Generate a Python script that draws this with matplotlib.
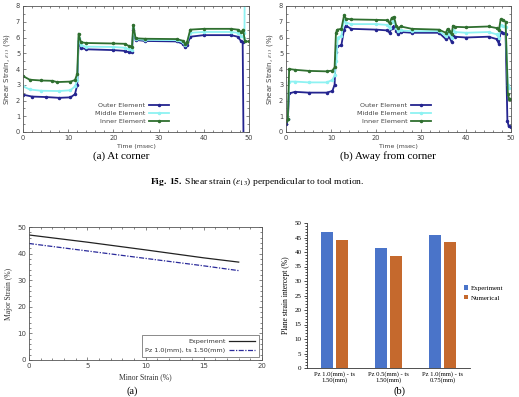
import matplotlib
matplotlib.use("Agg")
import matplotlib.pyplot as plt
from matplotlib.ticker import MultipleLocator
import numpy as np

plt.rcParams['mathtext.fontset'] = 'stix'
plt.rcParams['font.family'] = ['DejaVu Sans']

# ---------------- data: (a) at corner ----------------
ta_outer = [0, 2, 5, 8, 10.5, 11.5, 12.0, 12.3, 12.8, 14, 20, 22.5, 23.5, 24.1, 24.4, 24.9, 27, 34, 35.3, 35.9, 36.3, 37, 40, 46, 47.5, 48.3, 48.6, 48.8]
va_outer = [2.37, 2.25, 2.22, 2.17, 2.2, 2.4, 3.0, 5.8, 5.35, 5.25, 5.2, 5.15, 5.05, 5.05, 6.5, 5.85, 5.78, 5.75, 5.6, 5.4, 5.5, 6.05, 6.15, 6.15, 6.05, 5.75, 5.7, -1]
ta_middle = [0, 1.5, 4, 8, 10.5, 11.5, 12.0, 12.3, 12.8, 14, 20, 22.5, 23.5, 24.1, 24.4, 24.9, 27, 34, 35.3, 35.9, 36.3, 37, 40, 46, 47.5, 48.3, 48.8, 49.0, 49.05]
va_middle = [2.9, 2.7, 2.62, 2.6, 2.65, 2.9, 3.3, 6.0, 5.5, 5.42, 5.4, 5.35, 5.25, 5.2, 6.6, 5.9, 5.85, 5.83, 5.7, 5.5, 5.7, 6.3, 6.35, 6.35, 6.3, 6.1, 6.0, 6.3, 9]
ta_inner = [0, 1.5, 4, 6.5, 7.5, 10.5, 11.5, 12.0, 12.3, 12.8, 14, 20, 22.5, 23.5, 24.1, 24.4, 24.9, 27, 34, 35.3, 35.9, 36.3, 37, 40, 46, 47.5, 48.3, 48.7, 49.1, 50]
va_inner = [3.55, 3.32, 3.27, 3.25, 3.17, 3.2, 3.3, 3.7, 6.25, 5.7, 5.65, 5.62, 5.6, 5.45, 5.4, 6.8, 5.95, 5.92, 5.9, 5.8, 5.6, 5.7, 6.5, 6.55, 6.55, 6.5, 6.35, 6.5, 5.75, 5.75]

# ---------------- data: (b) away from corner ----------------
tb_outer = [0.1, 0.4, 0.7, 2, 5, 9, 10.3, 10.8, 11.1, 11.4, 12.3, 12.9, 13.3, 14.5, 20, 22.5, 23.0, 23.5, 24.0, 24.5, 24.9, 25.5, 28, 34, 35.5, 35.9, 36.3, 36.8, 37.1, 37.5, 40, 45, 46.8, 47.3, 47.7, 48.3, 48.8, 49.2, 49.5, 50]
vb_outer = [0.5, 0.8, 2.45, 2.55, 2.5, 2.5, 2.6, 3.0, 5.1, 5.45, 5.5, 6.5, 6.75, 6.55, 6.5, 6.45, 6.3, 6.6, 6.75, 6.4, 6.2, 6.35, 6.3, 6.3, 5.9, 6.2, 6.05, 5.7, 6.1, 6.05, 6.0, 6.05, 5.9, 5.6, 6.35, 6.3, 6.2, 0.7, 0.35, 0.3]
tb_middle = [0.4, 0.7, 2, 5, 9, 10.3, 10.8, 11.2, 11.5, 12.3, 12.9, 13.3, 14.5, 20, 22.5, 23.0, 23.5, 24.0, 24.5, 24.9, 25.5, 28, 34, 35.5, 35.9, 36.3, 36.8, 37.1, 37.5, 40, 45, 46.8, 47.3, 47.7, 48.3, 48.8, 49.3, 49.6]
vb_middle = [0.8, 3.2, 3.2, 3.15, 3.15, 3.3, 3.6, 4.5, 6.0, 6.1, 7.1, 6.95, 6.85, 6.85, 6.8, 6.6, 7.0, 7.05, 6.6, 6.4, 6.45, 6.4, 6.4, 6.1, 6.4, 6.2, 5.95, 6.5, 6.35, 6.3, 6.35, 6.2, 6.0, 6.8, 6.7, 6.65, 3.0, 2.8]
tb_inner = [0.1, 0.4, 0.7, 2, 5, 9, 10.3, 10.8, 11.1, 11.4, 12.3, 12.9, 13.3, 14.5, 20, 22.5, 23.0, 23.5, 24.0, 24.5, 24.9, 25.5, 28, 34, 35.5, 35.9, 36.3, 36.8, 37.1, 37.5, 40, 45, 46.8, 47.3, 47.7, 48.3, 48.8, 49.3, 49.6, 49.8]
vb_inner = [0.7, 0.8, 4.0, 3.95, 3.88, 3.85, 3.9, 4.1, 6.3, 6.5, 6.55, 7.4, 7.2, 7.15, 7.12, 7.1, 6.9, 7.25, 7.3, 6.75, 6.6, 6.7, 6.55, 6.5, 6.3, 6.55, 6.4, 6.2, 6.75, 6.68, 6.65, 6.7, 6.6, 6.45, 7.15, 7.1, 7.0, 2.4, 2.1, 2.1]

series_names = ["Outer Element", "Middle Element", "Inner Element"]
series_colors = ["#24248f", "#8ef2f2", "#2f6f2f"]

# ---------------- data: bottom (a) FLC ----------------
minor_strain = [0, 5, 10, 15, 18]
major_experiment = [47.0, 44.3, 41.4, 38.4, 36.8]
major_numerical = [43.8, 41.0, 38.2, 35.4, 33.6]

# ---------------- data: bottom (b) bars ----------------
bar_categories = ["Pz 1.0(mm) - ts\n1.50(mm)", "Pz 0.5(mm) - ts\n1.50(mm)", "Pz 1.0(mm) - ts\n0.75(mm)"]
bar_experiment = [47.0, 41.5, 46.0]
bar_numerical = [44.0, 38.5, 43.5]

W, H = 519, 397
fig = plt.figure(figsize=(W / 100, H / 100), dpi=100)


def rect(x0, y0, x1, y1):
    return [x0 / W, 1 - y1 / H, (x1 - x0) / W, (y1 - y0) / H]


def style_gnuplot(ax, fs=4.8):
    for s in ax.spines.values():
        s.set_color("#555555")
        s.set_linewidth(0.6)
    ax.tick_params(which="both", direction="in", top=True, right=True,
                   colors="#555555", labelcolor="#444444", labelsize=fs, width=0.5, pad=2)
    ax.tick_params(which="major", length=2.5)
    ax.tick_params(which="minor", length=1.3)


serif = "Liberation Serif"

# ---- top plots ----
top_data = [
    [(ta_outer, va_outer), (ta_middle, va_middle), (ta_inner, va_inner)],
    [(tb_outer, vb_outer), (tb_middle, vb_middle), (tb_inner, vb_inner)],
]
top_rects = [rect(23, 6, 249, 132), rect(286, 6, 511, 132)]
legend_anchor = [(169, 103), (431, 103)]
for k in range(2):
    ax = fig.add_axes(top_rects[k])
    for (t, v), name, c in zip(top_data[k], series_names, series_colors):
        ax.plot(t, v, color=c, lw=1.3, marker="o", ms=1.5, label=name)
    ax.set_xlim(0, 50)
    ax.set_ylim(0, 8)
    ax.xaxis.set_major_locator(MultipleLocator(10))
    ax.xaxis.set_minor_locator(MultipleLocator(2))
    ax.yaxis.set_major_locator(MultipleLocator(1))
    ax.yaxis.set_minor_locator(MultipleLocator(0.5))
    style_gnuplot(ax)
    ax.set_xlabel("Time (msec)", fontsize=4.5, color="#444444", labelpad=2)
    ax.set_ylabel(r"Shear Strain, $\epsilon_{13}$ (%)", fontsize=5, color="#444444", labelpad=3)
    ax_x, ax_y = legend_anchor[k]
    ax.legend(loc="upper right", bbox_to_anchor=(ax_x / W, 1 - ax_y / H),
              bbox_transform=fig.transFigure, frameon=False, markerfirst=False,
              fontsize=4.6, handlelength=3.2, handletextpad=0.5, labelspacing=0.35,
              borderpad=0, borderaxespad=0, labelcolor="#444444")

fig.text(121 / W, 1 - 156 / H, "(a) At corner", ha="center", va="center",
         fontsize=8, family=serif)
fig.text(388 / W, 1 - 156 / H, "(b) Away from corner", ha="center", va="center",
         fontsize=8, family=serif)
fig.text(257 / W, 1 - 182 / H,
         r"$\mathbf{Fig.\ 15.}$ Shear strain ($\epsilon_{13}$) perpendicular to tool motion.",
         ha="center", va="center", fontsize=6.8, family=serif)

# ---- bottom left ----
ax = fig.add_axes(rect(29, 227, 262, 360))
ax.plot(minor_strain, major_experiment, color="#222222", lw=0.9, label="Experiment")
ax.plot(minor_strain, major_numerical, color="#2a2a9a", lw=0.9, ls=(0, (4, 1.2, 1, 1.2)),
        label="Pz 1.0(mm), ts 1.50(mm)")
ax.set_xlim(0, 20)
ax.set_ylim(0, 50)
ax.xaxis.set_major_locator(MultipleLocator(5))
ax.xaxis.set_minor_locator(MultipleLocator(1))
ax.yaxis.set_major_locator(MultipleLocator(10))
ax.yaxis.set_minor_locator(MultipleLocator(2))
style_gnuplot(ax, fs=5)
ax.set_xlabel("Minor Strain (%)", fontsize=5.5, family=serif, color="#333333", labelpad=3)
ax.set_ylabel("Major Strain (%)", fontsize=5.5, family=serif, color="#333333", labelpad=3)
leg = ax.legend(loc="lower right", markerfirst=False, fontsize=4.6, frameon=True, fancybox=False,
                handlelength=4, handletextpad=0.6, labelspacing=0.5, borderpad=0.6,
                borderaxespad=0.5, labelcolor="#333333")
leg.get_frame().set_edgecolor("#555555")
leg.get_frame().set_linewidth(0.6)
fig.text(132 / W, 1 - 396 / H, "(a)", ha="center", va="bottom", fontsize=7.5, family=serif)

# ---- bottom right ----
ax = fig.add_axes(rect(307, 223, 470, 368))
x = np.arange(len(bar_categories))
bw = 0.22
ax.bar(x - 0.14, bar_experiment, bw, color="#4a74c9", label="Experiment")
ax.bar(x + 0.14, bar_numerical, bw, color="#c5692d", label="Numerical")
ax.set_xlim(-0.5, 2.5)
ax.set_ylim(0, 50)
ax.set_xticks(x)
ax.set_xticklabels(bar_categories, fontsize=4.8, family=serif)
ax.yaxis.set_major_locator(MultipleLocator(5))
ax.yaxis.set_minor_locator(MultipleLocator(1))
for s in ["top", "right"]:
    ax.spines[s].set_visible(False)
for s in ["left", "bottom"]:
    ax.spines[s].set_color("#333333")
    ax.spines[s].set_linewidth(0.6)
ax.tick_params(axis="x", length=0, labelsize=4.8, pad=2)
ax.tick_params(axis="y", which="both", direction="out", labelsize=5, width=0.5, pad=1.5)
ax.tick_params(axis="y", which="major", length=2.5)
ax.tick_params(axis="y", which="minor", length=1.3)
for lab in ax.get_yticklabels():
    lab.set_family(serif)
ax.set_ylabel("Plane strain intercept (%)", fontsize=5.5, family=serif, labelpad=3)
ax.legend(loc="center left", bbox_to_anchor=(464 / W, 1 - 293 / H), bbox_transform=fig.transFigure,
          frameon=False, prop={"family": serif, "size": 5}, handlelength=0.6, handleheight=0.6,
          handletextpad=0.4, labelspacing=0.6, borderpad=0, borderaxespad=0)
fig.text(400 / W, 1 - 396 / H, "(b)", ha="center", va="bottom", fontsize=7.5, family=serif)

fig.savefig("out.png", dpi=100)
